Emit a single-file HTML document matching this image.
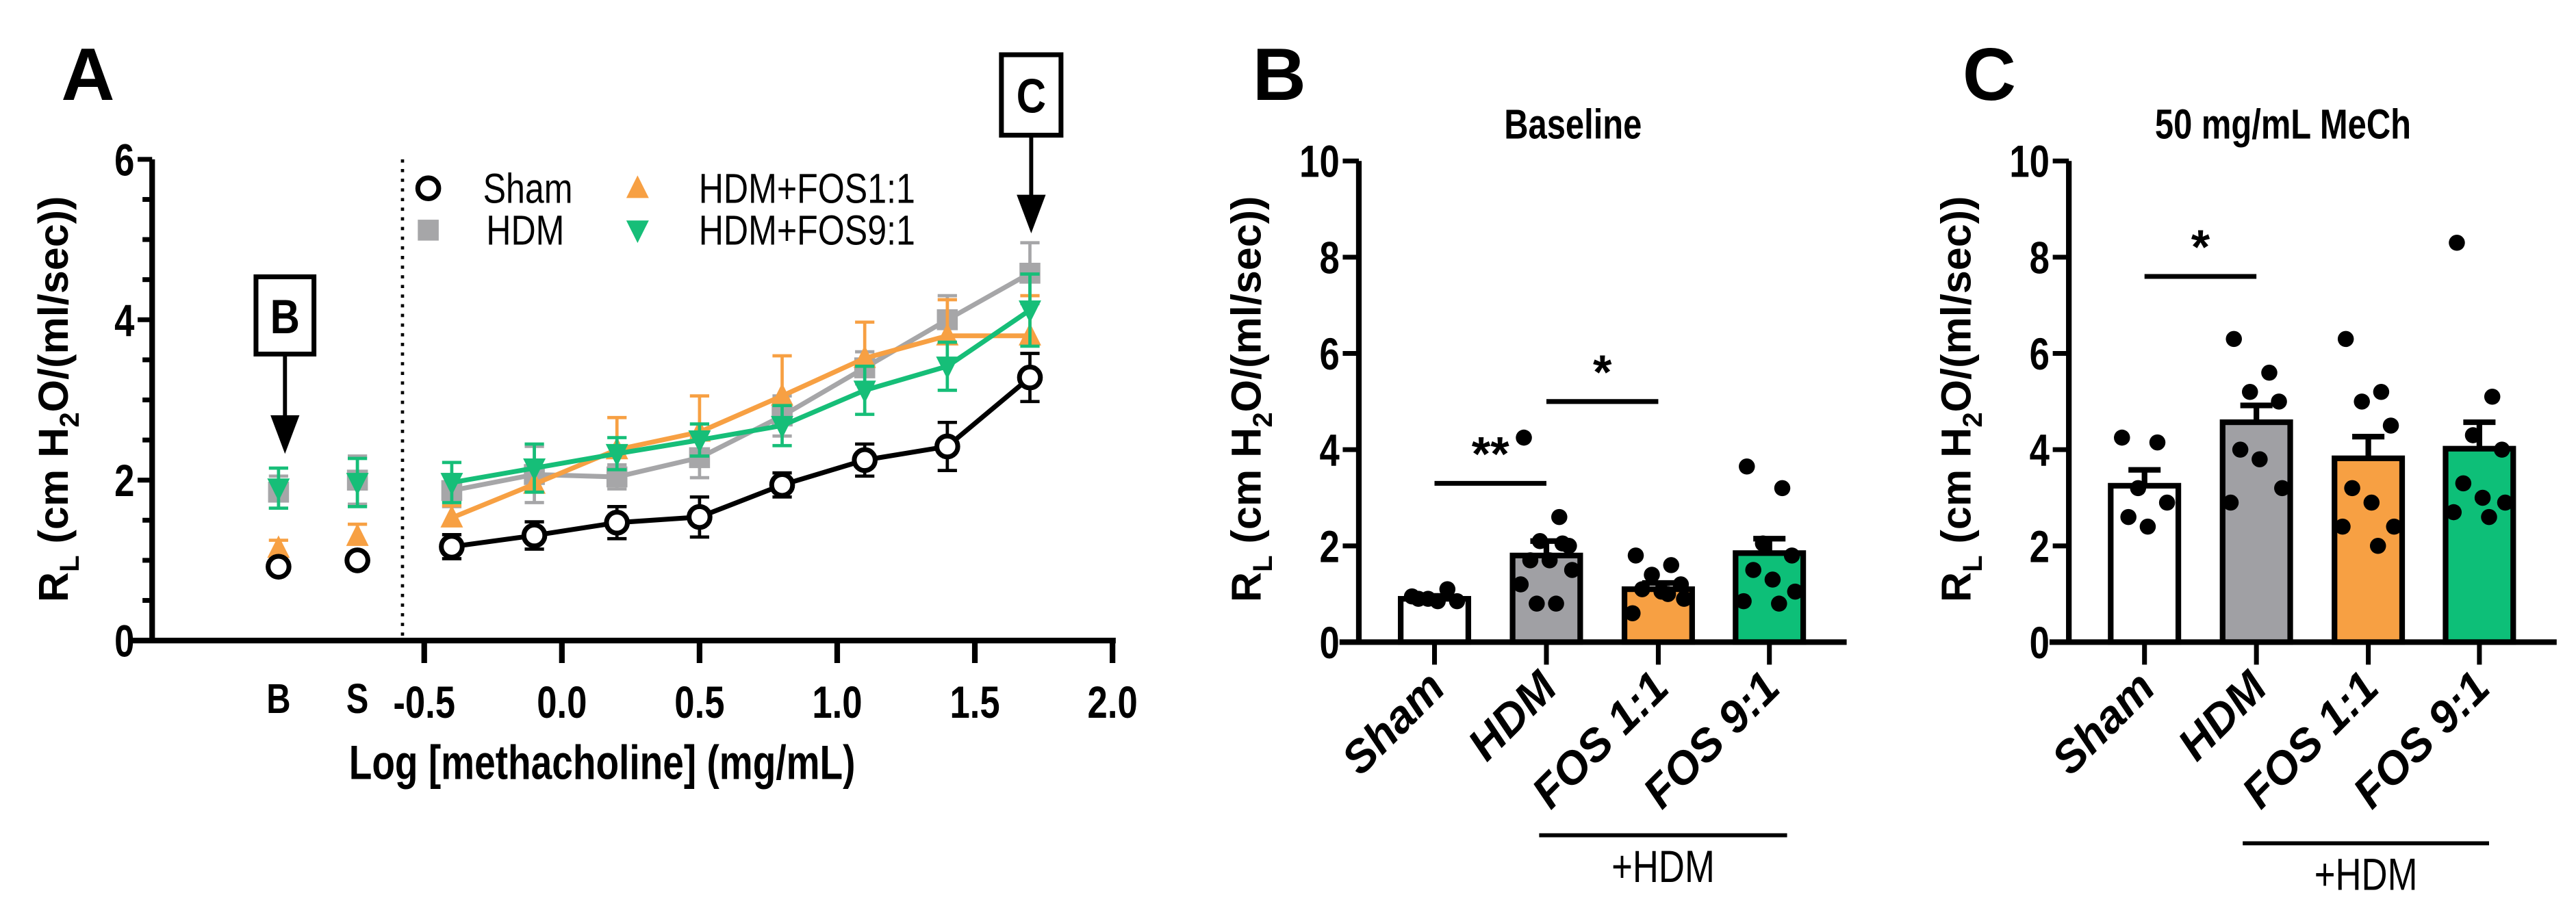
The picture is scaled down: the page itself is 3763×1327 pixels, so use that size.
<!DOCTYPE html>
<html><head><meta charset="utf-8"><style>
html,body{margin:0;padding:0;background:#fff;}
svg{display:block;}
text{font-family:"Liberation Sans",sans-serif;}
.b{font-weight:bold;}
.wide{font-family:"Liberation Sans",sans-serif;font-weight:bold;}
</style></head><body>
<svg id="fig" width="3763" height="1327" viewBox="0 0 1600 564.2" xmlns="http://www.w3.org/2000/svg">
<g id="pa"></g>
<g id="pb"></g>
<g id="pc"></g>
</svg>
<script>
// ---- Panel A data ----
const aX = [-0.4,-0.1,0.2,0.5,0.8,1.1,1.4,1.7];
const aShamBS = [0.92,1.0];
const aSham = [1.17,1.31,1.47,1.54,1.94,2.25,2.42,3.28];
const aShamErr = [0.15,0.17,0.2,0.25,0.15,0.2,0.3,0.3];
const aShamBSErr = [0.05,0.05];
const aHdmBS = [1.85,2.0];
const aHdm = [1.87,2.07,2.04,2.28,2.8,3.4,4.0,4.58];
const aHdmErr = [0.2,0.35,0.15,0.25,0.25,0.2,0.3,0.38];
const aHdmBSErr = [0.2,0.3];
const aF1BS = [1.15,1.3];
const aF1 = [1.53,1.95,2.38,2.6,3.05,3.52,3.8,3.8];
const aF1Err = [0.15,0.3,0.4,0.45,0.5,0.45,0.45,0.5];
const aF1BSErr = [0.1,0.15];
const aF9BS = [1.9,1.97];
const aF9 = [1.97,2.15,2.33,2.5,2.68,3.12,3.42,4.12];
const aF9Err = [0.25,0.3,0.2,0.2,0.25,0.3,0.3,0.45];
const aF9BSErr = [0.25,0.3];
const aXTicks = [-0.5,0.0,0.5,1.0,1.5,2.0];
const aXTickLabels = ["-0.5","0.0","0.5","1.0","1.5","2.0"];
const aYTicks = [0,2,4,6];
// ---- Panel B/C data ----
const groups = ["Sham","HDM","FOS 1:1","FOS 9:1"];
const bMeans = [0.9,1.8,1.1,1.85];
const bErr = [0.06,0.3,0.13,0.3];
const bDots = [[0.95,1.1,0.9,0.85,0.9,0.85],[4.25,2.6,2.1,2.0,1.7,1.7,1.5,1.2,0.8,0.8,2.05],[1.8,1.6,1.4,1.2,1.1,1.05,0.9,0.6,1.0],[3.65,3.2,2.05,1.8,1.5,1.3,1.05,0.85,0.8]];
const cMeans = [3.25,4.57,3.82,4.02];
const cErr = [0.33,0.35,0.45,0.55];
const cDots = [[4.25,4.15,3.2,2.9,2.6,2.4],[6.3,5.6,5.2,5.0,4.0,3.8,3.2,2.9],[6.3,5.2,5.0,4.5,3.2,2.9,2.4,2.4,2.0],[8.3,5.1,4.3,4.0,3.3,3.0,2.9,2.7,2.6]];
const barYTicks = [0,2,4,6,8,10];

const NS="http://www.w3.org/2000/svg";
function el(p,tag,attrs,txt){const e=document.createElementNS(NS,tag);for(const k in attrs)e.setAttribute(k,attrs[k]);if(txt!==undefined)e.textContent=txt;p.appendChild(e);return e;}
// narrow (condensed) text: horizontal scale
function nt(p,x,y,size,anchor,str,bold,sx){
 const e=el(p,'text',{x:0,y:0,'font-size':size,'text-anchor':anchor,transform:`translate(${x},${y}) scale(${sx||0.8},1)`},str);
 if(bold)e.setAttribute('font-weight','bold');
 return e;
}

// ===== Panel A =====
(function(){
const g=document.getElementById('pa');
const X0=94.5, Y0=398, Y6=99;
const y=v=>Y0-(v)*(Y0-Y6)/6;
const x=v=>263.5+(v+0.5)*171;
const bsX=[173,222];
let t;
t=el(g,'text',{x:38,y:62,'font-size':46,'class':'wide'},'A');

t=el(g,'line',{x1:X0,y1:Y6,x2:X0,y2:Y0+1.5,stroke:'#000','stroke-width':3.5});

t=el(g,'line',{x1:80,y1:Y0,x2:693,y2:Y0,stroke:'#000','stroke-width':3.5});

for(let v=0;v<=6;v+=0.5){const tk=el(g,'line',{x1:X0-(v%2===0?9:6),y1:y(v),x2:X0,y2:y(v),stroke:'#000','stroke-width':3});
}
aYTicks.forEach(v=>{const tl=nt(g,X0-11,y(v)+10,28,'end',String(v),true);
});
aXTicks.forEach((v,i)=>{const tk=el(g,'line',{x1:x(v),y1:Y0,x2:x(v),y2:Y0+14,stroke:'#000','stroke-width':3.5});

const tl=nt(g,x(v),Y0+48,28,'middle',aXTickLabels[i],true);
});
['B','S'].forEach((s,i)=>{const tl=nt(g,bsX[i],Y0+45,26,'middle',s,true);
});
t=nt(g,374,484,30,'middle','Log [methacholine] (mg/mL)',true,0.78);

t=el(g,'text',{transform:'translate(42,248) rotate(-90)','font-size':26,'class':'wide','text-anchor':'middle'});
t.innerHTML='R<tspan font-size="17" dy="7">L</tspan><tspan dy="-7"> (cm H</tspan><tspan font-size="17" dy="7">2</tspan><tspan dy="-7">O/(ml/sec))</tspan>';

t=el(g,'line',{x1:250,y1:Y6,x2:250,y2:Y0,stroke:'#000','stroke-width':2,'stroke-dasharray':'2 4'});


function marker(p,type,cx,cy,col){
 if(type==='circle')return el(p,'circle',{cx,cy,r:6.5,fill:'#fff',stroke:'#000','stroke-width':3});
 if(type==='square')return el(p,'rect',{x:cx-6.5,y:cy-6.5,width:13,height:13,fill:col});
 if(type==='up')return el(p,'polygon',{points:`${cx},${cy-8} ${cx+7},${cy+6} ${cx-7},${cy+6}`,fill:col});
 return el(p,'polygon',{points:`${cx},${cy+8} ${cx+7},${cy-6} ${cx-7},${cy-6}`,fill:col});
}
const series=[
 {n:'hdm',bs:aHdmBS,v:aHdm,e:aHdmErr,be:aHdmBSErr,c:'#a6a6a8',m:'square',both:true},
 {n:'fos1-1',bs:aF1BS,v:aF1,e:aF1Err,be:aF1BSErr,c:'#f7a043',m:'up',both:false},
 {n:'fos9-1',bs:aF9BS,v:aF9,e:aF9Err,be:aF9BSErr,c:'#16be78',m:'down',both:true},
 {n:'sham',bs:aShamBS,v:aSham,e:aShamErr,be:aShamBSErr,c:'#000',m:'circle',both:true}
];
series.forEach(s=>{
 const sg=el(g,'g',{});
 const eb=(cx,v,e)=>{const lo=s.both?v-e:v;const l=el(sg,'path',{d:`M${cx},${y(lo)}V${y(v+e)}M${cx-6},${y(v+e)}h12`+(s.both?`M${cx-6},${y(v-e)}h12`:''),stroke:s.c,'stroke-width':2,fill:'none'});
  };
 s.bs.forEach((v,i)=>eb(bsX[i],v,s.be[i]));
 s.v.forEach((v,i)=>eb(x(aX[i]),v,s.e[i]));
 const ln=el(sg,'polyline',{points:s.v.map((v,i)=>x(aX[i])+','+y(v)).join(' '),fill:'none',stroke:s.c,'stroke-width':3});
 
 s.bs.forEach((v,i)=>{const mk=marker(sg,s.m,bsX[i],y(v),s.c);});
 s.v.forEach((v,i)=>{const mk=marker(sg,s.m,x(aX[i]),y(v),s.c);});
});
const lg=el(g,'g',{});
[['circle','#000',266,117,'Sham',300],['square','#a6a6a8',266,143,'HDM',302],['up','#f7a043',396,117,'HDM+FOS1:1',434],['down','#16be78',396,143,'HDM+FOS9:1',434]].forEach(a=>{
 const e=el(lg,'g',{});
 marker(e,a[0],a[2],a[3],a[1]);
 nt(e,a[5],a[3]+9,26,'start',a[4],false,0.82);
});
function callout(name,bx,by,w,h,tipY,lab){
 const cg=el(g,'g',{});
 el(cg,'rect',{x:bx,y:by,width:w,height:h,fill:'#fff',stroke:'#000','stroke-width':3});
 nt(cg,bx+w/2,by+h/2+11,30,'middle',lab,true,0.85);
 const cx=bx+w/2;
 el(cg,'line',{x1:cx,y1:by+h,x2:cx,y2:tipY-20,stroke:'#000','stroke-width':2.5});
 el(cg,'polygon',{points:`${cx-9},${tipY-24} ${cx+9},${tipY-24} ${cx},${tipY}`,fill:'#000'});
}
callout('callout-b',159,172,36,48,282,'B');
callout('callout-c',622,34,37,50,145,'C');
})();

// ===== Bar panels =====
function barPanel(id,letter,title,means,errs,dots,ox,sig,hdmLine){
 const g=document.getElementById(id);
 const Y0=399,Y10=100;
 const y=v=>Y0-v*(Y0-Y10)/10;
 const cx=[ox+47,ox+116.5,ox+186,ox+255];
 const fills=['#fff','#a0a0a4','#f7a043','#0dbf78'];
 let t;
 t=el(g,'text',{x:ox-66,y:62,'font-size':46,'class':'wide'},letter);
 
 t=nt(g,ox+133,86,26,'middle',title,true,0.8);
 
 t=el(g,'text',{transform:`translate(${ox-61},248) rotate(-90)`,'font-size':26,'class':'wide','text-anchor':'middle'});
 t.innerHTML='R<tspan font-size="17" dy="7">L</tspan><tspan dy="-7"> (cm H</tspan><tspan font-size="17" dy="7">2</tspan><tspan dy="-7">O/(ml/sec))</tspan>';
 
 t=el(g,'line',{x1:ox,y1:Y10,x2:ox,y2:Y0+1.5,stroke:'#000','stroke-width':3.5});
 
 t=el(g,'line',{x1:ox-12,y1:Y0,x2:ox+303,y2:Y0,stroke:'#000','stroke-width':3.5});
 
 barYTicks.forEach(v=>{const tk=el(g,'line',{x1:ox-10,y1:y(v),x2:ox,y2:y(v),stroke:'#000','stroke-width':3});
  
  const tl=nt(g,ox-12,y(v)+10,28,'end',String(v),true);
  });
 const jit=[-14,8,-4,14,-10,2,16,-16,6,-6,10];
 means.forEach((m,i)=>{
  const bg=el(g,'g',{});
  el(bg,'path',{d:`M${cx[i]},${y(m)}V${y(m+errs[i])}M${cx[i]-10},${y(m+errs[i])}h20`,stroke:'#000','stroke-width':3.5,fill:'none'});
  el(bg,'rect',{x:cx[i]-21,y:y(m),width:42,height:Y0-y(m),fill:fills[i],stroke:'#000','stroke-width':3.5});
  dots[i].forEach((d,j)=>{const c=el(bg,'circle',{cx:cx[i]+jit[j%jit.length],cy:y(d),r:5,fill:'#000'});
   });
  const tk=el(g,'line',{x1:cx[i],y1:Y0,x2:cx[i],y2:Y0+14,stroke:'#000','stroke-width':3});
  
  const tl=el(g,'text',{transform:`translate(${cx[i]+8},${Y0+30}) rotate(-45)`,'font-size':28,'class':'wide','font-style':'italic','text-anchor':'end'},groups[i]);
  
 });
 sig.forEach(s=>{const sg=el(g,'g',{});
  el(sg,'line',{x1:cx[s.a],y1:y(s.v),x2:cx[s.b],y2:y(s.v),stroke:'#000','stroke-width':3});
  el(sg,'text',{x:(cx[s.a]+cx[s.b])/2,y:y(s.v)-8,'font-size':30,'class':'wide','text-anchor':'middle'},s.t);});
 const hg=el(g,'g',{});
 el(hg,'line',{x1:hdmLine[0],y1:hdmLine[2],x2:hdmLine[1],y2:hdmLine[2],stroke:'#000','stroke-width':2.5});
 nt(hg,(hdmLine[0]+hdmLine[1])/2,hdmLine[2]+29,28,'middle','+HDM',false,0.8);
}
barPanel('pb','B','Baseline',bMeans,bErr,bDots,844,[{a:0,b:1,v:3.3,t:'**'},{a:1,b:2,v:5.0,t:'*'}],[956,1110,519]);
barPanel('pc','C','50 mg/mL MeCh',cMeans,cErr,cDots,1285,[{a:0,b:1,v:7.6,t:'*'}],[1393,1546,524]);
</script>
</body></html>
